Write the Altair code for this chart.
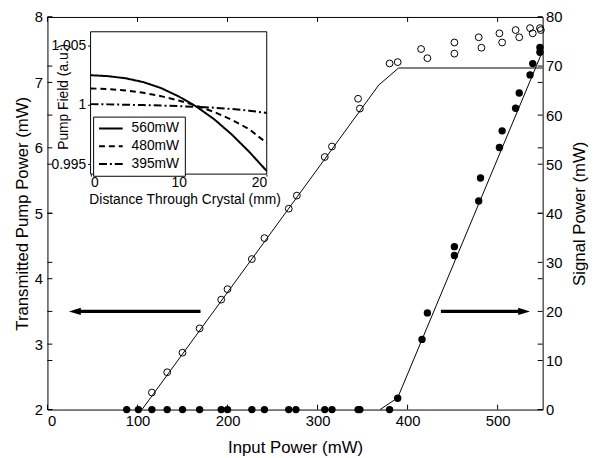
import altair as alt
import pandas as pd

FONT = "Liberation Sans"

# ---------------- data ----------------
# transmitted pump power (open circles, left axis)
pump_input = [116, 133, 150, 169, 193, 200, 227, 241, 268, 277, 308, 316, 345, 347,
              380, 389, 415, 422, 452, 452, 479, 482, 502, 505, 520, 524, 536, 539, 547, 548]
pump_power = [2.26, 2.57, 2.87, 3.24, 3.68, 3.84, 4.30, 4.62, 5.07, 5.27, 5.86, 6.02, 6.75, 6.60,
              7.29, 7.31, 7.51, 7.37, 7.61, 7.44, 7.69, 7.53, 7.75, 7.61, 7.80, 7.69, 7.83, 7.75, 7.83, 7.80]

# signal power (filled circles, right axis)
signal_input = [88, 101, 116, 133, 150, 169, 193, 200, 227, 241, 268, 276, 308, 316, 345, 347, 380,
                389, 416, 422, 452, 452, 479, 481, 502, 505, 520, 524, 536, 539, 547, 547]
signal_power = [0, 0, 0, 0, 0, 0, 0, 0, 0, 0, 0, 0, 0, 0, 0, 0, 0,
                2.3, 14.3, 19.7, 31.4, 33.2, 42.5, 47.2, 53.4, 56.8, 61.4, 64.5, 68.2, 70.5, 72.8, 73.8]

# fitted lines
pump_fit_input = [105, 368, 390, 550]
pump_fit_power = [2.0, 6.96, 7.22, 7.22]
signal_fit_input = [369.5, 389, 548]
signal_fit_power = [0.0, 2.4, 72.2]

# arrows (tail, head) in input power, at a level on their own axis
left_arrow_input = [170, 30.5]
left_arrow_level = 3.5
right_arrow_input = [437, 529.4]
right_arrow_level = 20

# axis ticks
x_ticks = [0, 100, 200, 300, 400, 500]
pump_ticks = [2, 3, 4, 5, 6, 7, 8]
signal_ticks = [0, 10, 20, 30, 40, 50, 60, 70, 80]

# inset: pump field along the crystal
distance = [0, 2, 4, 6, 8, 10, 12, 14, 16, 18, 20]
field_560 = [1.00248, 1.00240, 1.00222, 1.00190, 1.00140, 1.00070, 0.99985, 0.99880, 0.99752, 0.99605, 0.99443]
field_480 = [1.00137, 1.00132, 1.00120, 1.00100, 1.00072, 1.00036, 0.99992, 0.99940, 0.99875, 0.99795, 0.99678]
field_395 = [1.00005, 1.00003, 1.00000, 0.99997, 0.99993, 0.99988, 0.99982, 0.99975, 0.99964, 0.99950, 0.99931]
series_labels = ["560mW", "480mW", "395mW"]
inset_x_domain = [0, 20]
inset_y_domain = [0.99417, 1.00613]
inset_x_ticks = [0, 10, 20]
inset_y_ticks = [0.995, 1.0, 1.005]

# ---------------- layout ----------------
W, H = 502, 398
INSET_X_RANGE = [43.7, 222.3]
INSET_Y_RANGE = [159.3, 15.0]

x_main = alt.Scale(domain=[0, 550], nice=False, zero=False)
y_pump = alt.Scale(domain=[2, 8], nice=False, zero=False)
y_sig = alt.Scale(domain=[0, 80], nice=False, zero=False)
x_in = alt.Scale(domain=inset_x_domain, range=INSET_X_RANGE, nice=False, zero=False)
y_in = alt.Scale(domain=inset_y_domain, range=INSET_Y_RANGE, nice=False, zero=False)

pump_df = pd.DataFrame({"input": pump_input, "pump": pump_power})
sig_df = pd.DataFrame({"input": signal_input, "signal": signal_power})
pump_fit_df = pd.DataFrame({"input": pump_fit_input, "pump": pump_fit_power})
sig_fit_df = pd.DataFrame({"input": signal_fit_input, "signal": signal_fit_power})
xt_df = pd.DataFrame({"input": x_ticks})
pt_df = pd.DataFrame({"pump": pump_ticks})
st_df = pd.DataFrame({"signal": signal_ticks})
la_df = pd.DataFrame({"input": [left_arrow_input[0]], "x1": [left_arrow_input[1]], "pump": [left_arrow_level]})
lh_df = pd.DataFrame({"input": [left_arrow_input[1]], "pump": [left_arrow_level]})
ra_df = pd.DataFrame({"input": [right_arrow_input[0]], "x1": [right_arrow_input[1]], "signal": [right_arrow_level]})
rh_df = pd.DataFrame({"input": [right_arrow_input[1]], "signal": [right_arrow_level]})

X_AXIS = alt.Axis(values=x_ticks, title="Input Power (mW)", orient="bottom",
                  labelPadding=4, titleY=39, titleBaseline="middle", format="d")
PUMP_AXIS = alt.Axis(values=pump_ticks, title="Transmitted Pump Power (mW)", orient="left",
                     labelPadding=5, titleX=-25, titleAngle=270, titleBaseline="middle", format="d")
SIG_AXIS = alt.Axis(values=signal_ticks, title="Signal Power (mW)", orient="right",
                    labelPadding=3, titleX=37, titleAngle=270, titleBaseline="middle", format="d")

XE = alt.X("input:Q", scale=x_main, axis=X_AXIS)
YP = alt.Y("pump:Q", scale=y_pump, axis=PUMP_AXIS)
YS = alt.Y("signal:Q", scale=y_sig, axis=SIG_AXIS)

# ---- pump group (left axis) ----
pump_pts = alt.Chart(pump_df).mark_point(shape="circle", filled=False, color="black",
                                         strokeWidth=1, size=48, opacity=1).encode(x=XE, y=YP)
pump_line = alt.Chart(pump_fit_df).mark_line(color="black", strokeWidth=1).encode(x=XE, y=YP)
left_arrow = alt.Chart(la_df).mark_rule(color="black", strokeWidth=3.3).encode(x=XE, x2="x1:Q", y=YP)
left_head = alt.Chart(lh_df).mark_point(shape="M-1,0L1,-0.6L1,0.6Z", filled=True, color="black",
                                        size=144, opacity=1).encode(x=XE, y=YP)
top_ticks = alt.Chart(xt_df).mark_rule(color="black", strokeWidth=1).encode(
    x=XE, y=alt.value(0), y2=alt.value(5))
bot_ticks = alt.Chart(xt_df).mark_rule(color="black", strokeWidth=1).encode(
    x=XE, y=alt.value(H - 5), y2=alt.value(H))
pl_ticks = alt.Chart(pt_df).mark_rule(color="black", strokeWidth=1).encode(
    y=YP, x=alt.value(0), x2=alt.value(5))
pr_ticks = alt.Chart(pt_df).mark_rule(color="black", strokeWidth=1).encode(
    y=YP, x=alt.value(W - 5), x2=alt.value(W))

pump_group = alt.layer(pump_line, pump_pts, left_arrow, left_head,
                       top_ticks, bot_ticks, pl_ticks, pr_ticks)

# ---- signal group (right axis) ----
sig_pts = alt.Chart(sig_df).mark_circle(color="black", size=56, opacity=1).encode(x=XE, y=YS)
sig_line = alt.Chart(sig_fit_df).mark_line(color="black", strokeWidth=1).encode(x=XE, y=YS)
right_arrow = alt.Chart(ra_df).mark_rule(color="black", strokeWidth=3.3).encode(x=XE, x2="x1:Q", y=YS)
right_head = alt.Chart(rh_df).mark_point(shape="M1,0L-1,-0.6L-1,0.6Z", filled=True, color="black",
                                         size=144, opacity=1).encode(x=XE, y=YS)
sl_ticks = alt.Chart(st_df).mark_rule(color="black", strokeWidth=1).encode(
    y=YS, x=alt.value(0), x2=alt.value(5))
sr_ticks = alt.Chart(st_df).mark_rule(color="black", strokeWidth=1).encode(
    y=YS, x=alt.value(W - 5), x2=alt.value(W))

sig_group = alt.layer(sig_line, sig_pts, right_arrow, right_head, sl_ticks, sr_ticks)

main_group = alt.layer(pump_group, sig_group).resolve_scale(y="independent")

# ---- inset ----
rows = []
for lab, vals in zip(series_labels, [field_560, field_480, field_395]):
    for d, v in zip(distance, vals):
        rows.append({"distance": d, "field": v, "series": lab})
inset_df = pd.DataFrame(rows)
frame_df = pd.DataFrame({"distance": [inset_x_domain[0]], "x1": [inset_x_domain[1]],
                         "field": [inset_y_domain[0]], "y1": [inset_y_domain[1]]})

IN_X_AXIS = alt.Axis(values=inset_x_ticks, orient="bottom", offset=-(H - INSET_Y_RANGE[0]),
                     title="Distance Through Crystal (mm)", labelFontSize=14, titleFontSize=14,
                     ticks=True, tickSize=2, tickColor="black", labelPadding=0,
                     titleX=139, titleY=26, titleBaseline="middle", format="d")
IN_Y_AXIS = alt.Axis(values=inset_y_ticks, orient="left", offset=-INSET_X_RANGE[0],
                     title="Pump Field (a.u.)", labelFontSize=14, titleFontSize=14,
                     ticks=True, tickSize=3, tickColor="black", labelPadding=2, format=".4~g",
                     titleX=-27, titleY=80.5, titleAngle=270, titleBaseline="middle")
XI = alt.X("distance:Q", scale=x_in, axis=IN_X_AXIS)
YI = alt.Y("field:Q", scale=y_in, axis=IN_Y_AXIS)

inset_frame = alt.Chart(frame_df).mark_rect(fill="white", stroke="black", strokeWidth=1).encode(
    x=XI, x2="x1:Q", y=YI, y2="y1:Q")

inset_lines = alt.Chart(inset_df).mark_line(color="black", strokeWidth=2).encode(
    x=XI, y=YI,
    strokeDash=alt.StrokeDash("series:N", scale=alt.Scale(
        domain=series_labels, range=[[1, 0], [6, 4], [8, 3, 2, 3]]),
        legend=alt.Legend(title=None, orient="none", legendX=46.3, legendY=101,
                          direction="vertical", strokeColor="black", fillColor="white",
                          padding=5, symbolType="stroke", symbolSize=576,
                          symbolStrokeWidth=2, symbolStrokeColor="black",
                          labelFontSize=14, labelFont=FONT, labelColor="black",
                          labelOffset=8, clipHeight=14, rowPadding=4, cornerRadius=0)),
    detail="series:N",
)

inset_group = alt.layer(inset_frame, inset_lines)

chart = alt.layer(main_group, inset_group).resolve_scale(
    x="independent", y="independent"
).properties(
    width=W, height=H,
    autosize=alt.AutoSizeParams(type="none"),
    padding={"left": 40, "top": 6, "right": 47, "bottom": 46},
    background="white",
).configure_view(
    stroke="black", strokeWidth=1
).configure_axis(
    labelFont=FONT, titleFont=FONT, labelColor="black", titleColor="black",
    titleFontWeight="normal", labelFontSize=15, titleFontSize=17,
    domain=False, ticks=False, grid=False,
)

chart.save("out.html", embed_options={"renderer": "svg", "actions": False})
